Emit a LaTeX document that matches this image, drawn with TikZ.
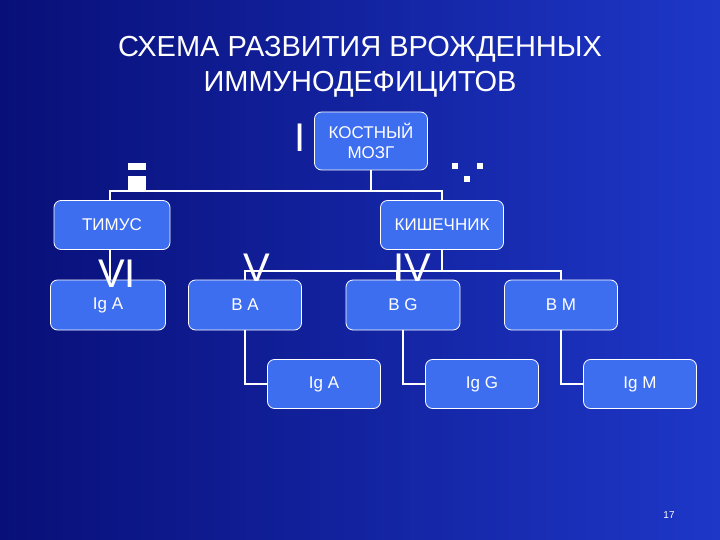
\documentclass[tikz,border=0pt]{standalone}
\usepackage{fontspec}
\setmainfont{Liberation Sans}
\definecolor{boxc}{RGB}{62,110,240}
\definecolor{bgA}{RGB}{8,15,120}
\definecolor{bgB}{RGB}{30,55,200}
\begin{document}
\begin{tikzpicture}[x=1pt,y=-1pt,
  bx/.style={draw=white,line width=0.8pt,fill=boxc,rounded corners=7pt,text=white,font=\fontsize{17}{20}\selectfont,align=center,inner sep=0pt},
  ln/.style={draw=white,line width=1.5pt},
  rom/.style={text=white,font=\fontsize{40}{40}\selectfont,inner sep=0pt}]
\shade[left color=bgA,right color=bgB] (0,0) rectangle (720,540);
\useasboundingbox (0,0) rectangle (720,540);
\node[text=white,font=\fontsize{29}{35}\selectfont,align=center] (title) at (360,67) {СХЕМА РАЗВИТИЯ ВРОЖДЕННЫХ\\ИММУНОДЕФИЦИТОВ};
% boxes
\node[bx,minimum width=113pt,minimum height=58pt] (mozg) at (371,141) {КОСТНЫЙ\\МОЗГ};
\node[bx,minimum width=116pt,minimum height=49pt] (tim) at (112,225) {ТИМУС};
\node[bx,minimum width=123pt,minimum height=49pt] (kish) at (442,225) {КИШЕЧНИК};
\node[bx,minimum width=115pt,minimum height=50pt] (iga1) at (108,305) {Ig A};
\node[bx,minimum width=113pt,minimum height=50pt] (ba) at (245,305) {B A};
\node[bx,minimum width=114pt,minimum height=50pt] (bg) at (403,305) {B G};
\node[bx,minimum width=113pt,minimum height=50pt] (bm) at (561,305) {B M};
\node[bx,minimum width=113pt,minimum height=49pt] (iga2) at (324,384) {Ig A};
\node[bx,minimum width=113pt,minimum height=49pt] (igg) at (482,384) {Ig G};
\node[bx,minimum width=113pt,minimum height=49pt] (igm) at (640,384) {Ig M};
% connectors
\coordinate (b1) at (371,191);
\draw[ln] (mozg.south) -- (b1);
\draw[ln] (tim.north -| 110,0) |- (b1) -| (kish.north);
\coordinate (b2) at (442,271);
\draw[ln] (kish.south) -- (b2);
\draw[ln] (ba.north) |- (b2) -| (bm.north);
\draw[ln] (bg.north -| 397,0) -- (397,271);
\draw[ln] (tim.south -| 110,0) -- (iga1.north -| 110,0);
\draw[ln] (ba.south) |- (iga2.west);
\draw[ln] (bg.south) |- (igg.west);
\draw[ln] (bm.south) |- (igm.west);
% roman numerals
\node[rom] (r1) at (300,138) {I};
\fill[white] (128,163) rectangle (146,170);
\fill[white] (128,176) rectangle (146,190);
\fill[white] (452,163) rectangle (458,169);
\fill[white] (477,163) rectangle (483,169);
\fill[white] (464,176) rectangle (470,182);
\node[rom] (r6) at (117,274) {VI};
\node[rom] (r5) at (257,268) {V};
\node[rom] (r4) at (412,268) {IV};
\node[text=white,font=\fontsize{10}{12}\selectfont] (pg) at (669,515) {17};
\end{tikzpicture}
\end{document}
